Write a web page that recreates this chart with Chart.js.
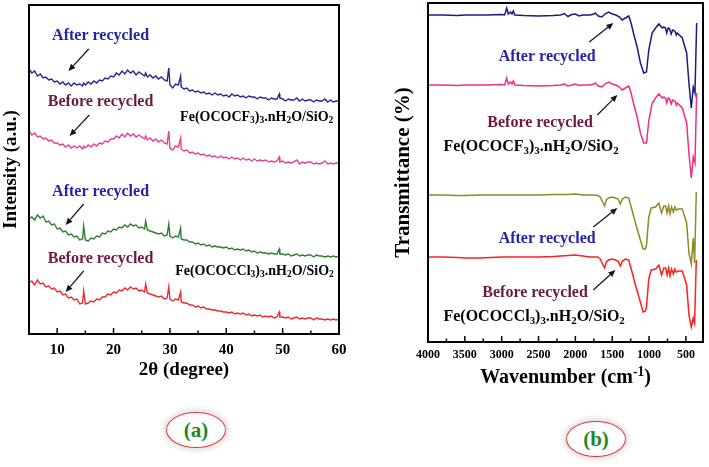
<!DOCTYPE html>
<html><head><meta charset="utf-8">
<script src="https://cdn.jsdelivr.net/npm/chart.js@4"></script>
<style>
body{margin:0;background:#fff;width:709px;height:467px;position:relative;overflow:hidden;font-family:'Liberation Serif',serif}
#cL{position:absolute;left:0;top:0}
#cR{position:absolute;left:355px;top:0}
.tag{position:absolute;width:58px;height:34px;border:1px solid #e23a3a;border-radius:50%;box-shadow:0 0 5px 3px rgba(0,0,0,0.12);display:flex;align-items:center;justify-content:center;font:bold 21px 'Liberation Serif',serif;color:#1d8a1d;background:#fff}
</style></head><body>
<canvas id="cL" width="355" height="400"></canvas>
<canvas id="cR" width="354" height="400"></canvas>
<div class="tag" style="left:166px;top:412px">(a)</div>
<div class="tag" style="left:566px;top:421px">(b)</div>
<script>
// ---------- XRD (panel a) ----------
const xrdTheta = [5,5.5,6,6.5,7,7.5,8,8.5,9,9.5,
10,10.5,11,11.5,12,12.5,13,13.5,14,14.5,
14.7,15,15.5,16,16.5,17,17.5,18,18.5,19,19.5,
20,20.5,21,21.5,22,22.5,23,23.5,24,24.5,
25,25.5,25.7,26,26.5,27,27.5,28,28.5,29,29.5,
29.8,30,30.5,31,31.5,31.9,32,32.5,33,33.5,34,34.5,
35,35.5,36,36.5,37,37.5,38,38.5,39,39.5,
40,40.5,41,41.5,42,42.5,43,43.5,44,44.5,
45,45.5,46,46.5,47,47.5,48,48.5,49,49.4,49.5,
50,50.5,51,51.5,52,52.5,53,53.5,54,54.5,
55,55.5,56,56.5,57,57.5,58,58.5,59,59.5,60];
const xrdAfterCF3 = [265,261,263,258,260,256,257,254,255,252,
253,250,252,249,251,248,251,249,250,248,
251,249,252,250,253,251,254,253,256,255,258,
257,261,259,263,260,264,261,263,259,262,
260,258,261,257,259,256,258,255,257,254,253,
266,249,246,250,249,258,247,245,246,243,244,242,
243,241,242,240,241,239,241,239,240,238,
239,237,240,238,239,237,238,236,238,237,
237,235,237,236,236,234,236,235,235,240,236,
235,233,235,234,234,236,233,235,233,234,
234,232,234,233,233,235,232,234,232,233,233];
const xrdBeforeCF3 = [203,199,201,197,198,195,196,193,194,191,
191,189,190,187,189,186,188,186,188,185,
188,186,189,187,190,188,191,190,193,192,195,
195,198,196,200,197,201,198,200,197,199,
197,195,198,194,196,193,195,192,194,191,190,
203,186,184,188,187,196,185,183,184,181,182,180,
181,179,180,178,179,177,178,176,178,176,
177,175,177,175,176,174,176,174,175,173,
175,173,174,173,174,172,173,172,173,177,172,
173,171,172,171,172,174,170,172,171,172,
172,170,171,170,171,173,170,171,170,171,171];
const xrdAfterCCl3 = [115,117,114,119,116,118,112,113,109,110,
105,106,102,103,99,100,97,98,94,95,
108,94,93,96,95,98,97,101,100,103,102,
105,104,107,106,109,107,110,108,109,106,
107,105,113,104,103,102,101,100,101,98,99,
110,98,96,98,97,106,95,94,94,92,92,90,
91,89,90,88,89,87,88,87,87,86,
87,85,86,84,85,84,85,83,84,82,
83,81,82,81,81,80,81,80,80,85,80,
80,79,80,78,79,80,78,79,78,79,
79,77,79,78,78,77,78,77,78,77,78];
const xrdBeforeCCl3 = [51,53,49,54,50,51,47,48,45,46,
42,43,39,40,36,37,34,35,30,31,
43,30,31,33,32,35,34,37,37,40,39,
42,41,44,43,46,44,47,45,46,43,
44,42,50,41,40,39,38,37,38,35,36,
47,35,33,35,34,42,32,31,31,29,29,27,
28,26,27,25,25,24,24,23,23,22,
22,21,22,20,21,20,21,19,20,18,
19,18,19,17,18,17,18,16,17,22,17,
17,16,17,15,16,17,15,16,15,16,
16,14,16,15,15,14,15,14,15,14,15];
const xrdTicks = [10,20,30,40,50,60];
const xrdMinor = [15,25,35,45,55];

// ---------- FTIR (panel b) ----------
const wnCF3 = [4000,3800,3600,3500,3400,3200,3000,
2960,2932,2910,2880,2860,2842,2820,
2700,2500,2300,2200,2150,2100,2050,2000,1950,1900,1850,1800,
1750,1730,1690,1640,1600,1550,1500,1450,1400,1366,
1320,1276,1244,1212,1162,1117,1072,1035,1004,958,
912,867,821,800,776,760,740,720,700,680,
650,630,617,549,490,459,427,400,377,354];
const ftirAfterCF3 = [328,328,327.5,328,328,328,328.5,
328,335,329,331,329,332,328,
327.5,327,327.5,328,329.5,326.5,328.5,329,327,328,328,328,
329,330,327,326,329,331,329,328,326,323,
325,327,320,310,296,280,270,271,293,310,
315,319,315,316,315,310,315,314,309,313,
312,308,310,305,290,260,235,256,250,320];
const ftirBeforeCF3 = [258,258,257.5,258,258,258,258.5,
258,265,259,261,259,262,258,
257.5,257,257.5,258,259,257,258,259,257.5,258,258,258,
259,260,257,256,259,261,259,258,256,253,
255,257,250,240,226,210,200,200,222,240,
245,249,245,246,245,240,245,244,239,243,
242,238,240,235,220,190,165,186,180,250];
const wnCCl3 = [4000,3800,3600,3500,3300,3000,2800,2500,2300,2200,
2100,2000,1900,1800,1750,1700,1662,1630,1603,1580,
1549,1500,1458,1420,1390,1362,1321,1276,1231,1185,
1126,1081,1050,1035,1004,971,912,867,830,800,
776,755,735,715,695,670,650,630,599,549,
490,459,427,400,382,359];
const ftirAfterCCl3 = [148,148,147.5,147.5,148,148,148,148,148.5,148.5,
148.5,149,148,148,148,147.5,146,141,137,143,
145,146,145,144,139,144,146,145,133,120,
105,94,94,98,126,135,136,140,130,137,
137,130,137,129,136,131,136,133,134,134,
120,90,79,105,80,151];
const ftirBeforeCCl3 = [86,86,85.5,85,85,86,86,86,86.5,87,
87.5,88,87,86,86,86,84,79,75,81,
83,84,83,82,77,82,84,83,71,58,
43,31,32,36,64,73,74,78,68,75,
75,68,75,67,74,69,74,71,72,72,
58,28,16,25,20,83];
const ftirTicks = [4000,3500,3000,2500,2000,1500,1000,500];
const ftirMinor = [3750,3250,2750,2250,1750,1250,750];

// ---------- helpers ----------
const FONT = "'Liberation Serif','Times New Roman',serif";
Chart.defaults.font.family = FONT;
Chart.defaults.color = '#000';
const toPts = (xs, ys) => xs.map((x, i) => ({x: x, y: ys[i]}));

function richWidth(ctx, segs, size) {
  let w = 0;
  segs.forEach(s => {
    const fs = s[1] ? size * 0.68 : size;
    ctx.font = 'bold ' + fs + 'px ' + FONT;
    w += ctx.measureText(s[0]).width;
  });
  return w;
}
function drawRich(ctx, segs, cx, cy, size, color) {
  const w = richWidth(ctx, segs, size);
  let x = cx - w / 2;
  ctx.fillStyle = color;
  ctx.textBaseline = 'middle';
  ctx.textAlign = 'left';
  segs.forEach(s => {
    const fs = s[1] ? size * 0.68 : size;
    ctx.font = 'bold ' + fs + 'px ' + FONT;
    const dy = s[1] === 1 ? size * 0.28 : (s[1] === 2 ? -size * 0.3 : 0);
    ctx.fillText(s[0], x, cy + dy);
    x += ctx.measureText(s[0]).width;
  });
}
function arrow(ctx, x1, y1, x2, y2, color) {
  ctx.strokeStyle = color; ctx.fillStyle = color; ctx.lineWidth = 1.2;
  const a = Math.atan2(y2 - y1, x2 - x1), L = 7, H = 3;
  const bx = x2 - L * Math.cos(a), by = y2 - L * Math.sin(a);
  ctx.beginPath(); ctx.moveTo(x1, y1); ctx.lineTo(bx, by); ctx.stroke();
  ctx.beginPath(); ctx.moveTo(x2, y2);
  ctx.lineTo(bx + H * Math.sin(a), by - H * Math.cos(a));
  ctx.lineTo(bx - H * Math.sin(a), by + H * Math.cos(a));
  ctx.closePath(); ctx.fill();
}

const annot = {
  id: 'annot',
  afterDatasetsDraw(chart, args, o) {
    const {ctx, chartArea: a, scales: {x, y}} = chart;
    ctx.save();
    ctx.strokeStyle = '#000'; ctx.lineWidth = 2;
    ctx.strokeRect(a.left, a.top, a.right - a.left, a.bottom - a.top);
    ctx.lineWidth = 1.5;
    o.major.forEach(v => { const p = x.getPixelForValue(v); ctx.beginPath(); ctx.moveTo(p, a.bottom); ctx.lineTo(p, a.bottom - 6); ctx.stroke(); });
    o.minor.forEach(v => { const p = x.getPixelForValue(v); ctx.beginPath(); ctx.moveTo(p, a.bottom); ctx.lineTo(p, a.bottom - 3.5); ctx.stroke(); });
    (o.arrows || []).forEach(r => arrow(ctx, x.getPixelForValue(r[0]), y.getPixelForValue(r[1]), x.getPixelForValue(r[2]), y.getPixelForValue(r[3]), '#111122'));
    (o.texts || []).forEach(t => drawRich(ctx, t.segs, x.getPixelForValue(t.x), y.getPixelForValue(t.y), t.size, t.color));
    if (o.xtitle) drawRich(ctx, o.xtitle.segs, (a.left + a.right) / 2, o.xtitle.py, o.xtitle.size, '#000');
    ctx.restore();
  }
};

const BLUE_T = '#2424aa', MAROON_T = '#6e1a3c';
const fCF3 = [['Fe(OCOCF',0],['3',1],[')',0],['3',1],['.nH',0],['2',1],['O/SiO',0],['2',1]];
const fCCl3 = [['Fe(OCOCCl',0],['3',1],[')',0],['3',1],['.nH',0],['2',1],['O/SiO',0],['2',1]];

function baseOpts(pad) {
  return {
    responsive: false, animation: false, devicePixelRatio: 1,
    layout: {padding: pad},
    elements: {point: {radius: 0}, line: {tension: 0}},
  };
}

// ---------- left chart ----------
const optL = baseOpts({left: 0, top: 5, right: 16, bottom: 0});
optL.plugins = {
  legend: {display: false}, tooltip: {enabled: false},
  annot: {
    major: xrdTicks, minor: xrdMinor,
    arrows: [[15.6,285,12.0,263],[15.7,219,12.2,198],[14.7,130,11.5,109],[14.7,63,11.5,42]],
    texts: [
      {segs: [['After recycled',0]], x: 17.7, y: 298, size: 16, color: BLUE_T},
      {segs: [['Before recycled',0]], x: 17.7, y: 232, size: 16, color: MAROON_T},
      {segs: fCF3, x: 45.4, y: 217, size: 14, color: '#000'},
      {segs: [['After recycled',0]], x: 17.7, y: 142, size: 16, color: BLUE_T},
      {segs: [['Before recycled',0]], x: 17.7, y: 75, size: 16, color: MAROON_T},
      {segs: fCCl3, x: 45.0, y: 63, size: 14, color: '#000'}
    ]
  }
};
optL.scales = {
  x: {type: 'linear', min: 5, max: 60,
      afterFit(s) { s.height = 66; },
      afterBuildTicks(s) { s.ticks = xrdTicks.map(v => ({value: v})); },
      grid: {display: false, drawTicks: false}, border: {display: false},
      ticks: {padding: 7, autoSkip: false, maxRotation: 0, font: {size: 15, weight: 'bold'}, color: '#000', callback: v => String(v)},
      title: {display: true, text: '2θ (degree)', font: {size: 19, weight: 'bold'}, color: '#000', padding: {top: 0, bottom: 19}}},
  y: {min: 0, max: 329,
      afterFit(s) { s.width = 29; },
      grid: {display: false, drawTicks: false}, border: {display: false},
      ticks: {display: false},
      title: {display: true, text: 'Intensity (a.u.)', font: {size: 19, weight: 'bold'}, color: '#000', padding: {top: 0, bottom: 0}}}
};
new Chart(document.getElementById('cL'), {
  type: 'line',
  data: {datasets: [
    {data: toPts(xrdTheta, xrdAfterCF3), borderColor: '#22288c', borderWidth: 1.4},
    {data: toPts(xrdTheta, xrdBeforeCF3), borderColor: '#e8408c', borderWidth: 1.4},
    {data: toPts(xrdTheta, xrdAfterCCl3), borderColor: '#2f7f2f', borderWidth: 1.4},
    {data: toPts(xrdTheta, xrdBeforeCCl3), borderColor: '#f02a2a', borderWidth: 1.4}
  ]},
  options: optL,
  plugins: [annot]
});

// ---------- right chart ----------
const optR = baseOpts({left: 0, top: 3, right: 6, bottom: 0});
optR.plugins = {
  legend: {display: false}, tooltip: {enabled: false},
  annot: {
    major: ftirTicks, minor: ftirMinor,
    arrows: [[1811,301,1484,320],[1702,228,1430,248],[1757,116,1430,135],[1757,53,1457,73]],
    texts: [
      {segs: [['After recycled',0]], x: 2383, y: 286, size: 16, color: BLUE_T},
      {segs: [['Before recycled',0]], x: 2479, y: 220, size: 16, color: MAROON_T},
      {segs: fCF3, x: 2601, y: 196, size: 16, color: '#000'},
      {segs: [['After recycled',0]], x: 2383, y: 104, size: 16, color: BLUE_T},
      {segs: [['Before recycled',0]], x: 2547, y: 50, size: 16, color: MAROON_T},
      {segs: fCCl3, x: 2560, y: 26, size: 16, color: '#000'}
    ],
    xtitle: {segs: [['Wavenumber (cm',0],['-1',2],[')',0]], py: 378, size: 20}
  }
};
optR.scales = {
  x: {type: 'linear', min: 268, max: 4000, reverse: true,
      afterFit(s) { s.height = 58; },
      afterBuildTicks(s) { s.ticks = ftirTicks.map(v => ({value: v})); },
      grid: {display: false, drawTicks: false}, border: {display: false},
      ticks: {padding: 6, autoSkip: false, maxRotation: 0, font: {size: 12, weight: 'bold'}, color: '#000', callback: v => String(v)},
      title: {display: false}},
  y: {min: 1, max: 340,
      afterFit(s) { s.width = 73; },
      grid: {display: false, drawTicks: false}, border: {display: false},
      ticks: {display: false},
      title: {display: true, text: 'Transmittance (%)', font: {size: 21, weight: 'bold'}, color: '#000', padding: {top: 36, bottom: 0}}}
};
new Chart(document.getElementById('cR'), {
  type: 'line',
  data: {datasets: [
    {data: toPts(wnCF3, ftirAfterCF3), borderColor: '#1c1c80', borderWidth: 1.5},
    {data: toPts(wnCF3, ftirBeforeCF3), borderColor: '#f0307f', borderWidth: 1.5},
    {data: toPts(wnCCl3, ftirAfterCCl3), borderColor: '#8c8c22', borderWidth: 1.5},
    {data: toPts(wnCCl3, ftirBeforeCCl3), borderColor: '#ff2020', borderWidth: 1.5}
  ]},
  options: optR,
  plugins: [annot]
});
</script>
</body></html>
